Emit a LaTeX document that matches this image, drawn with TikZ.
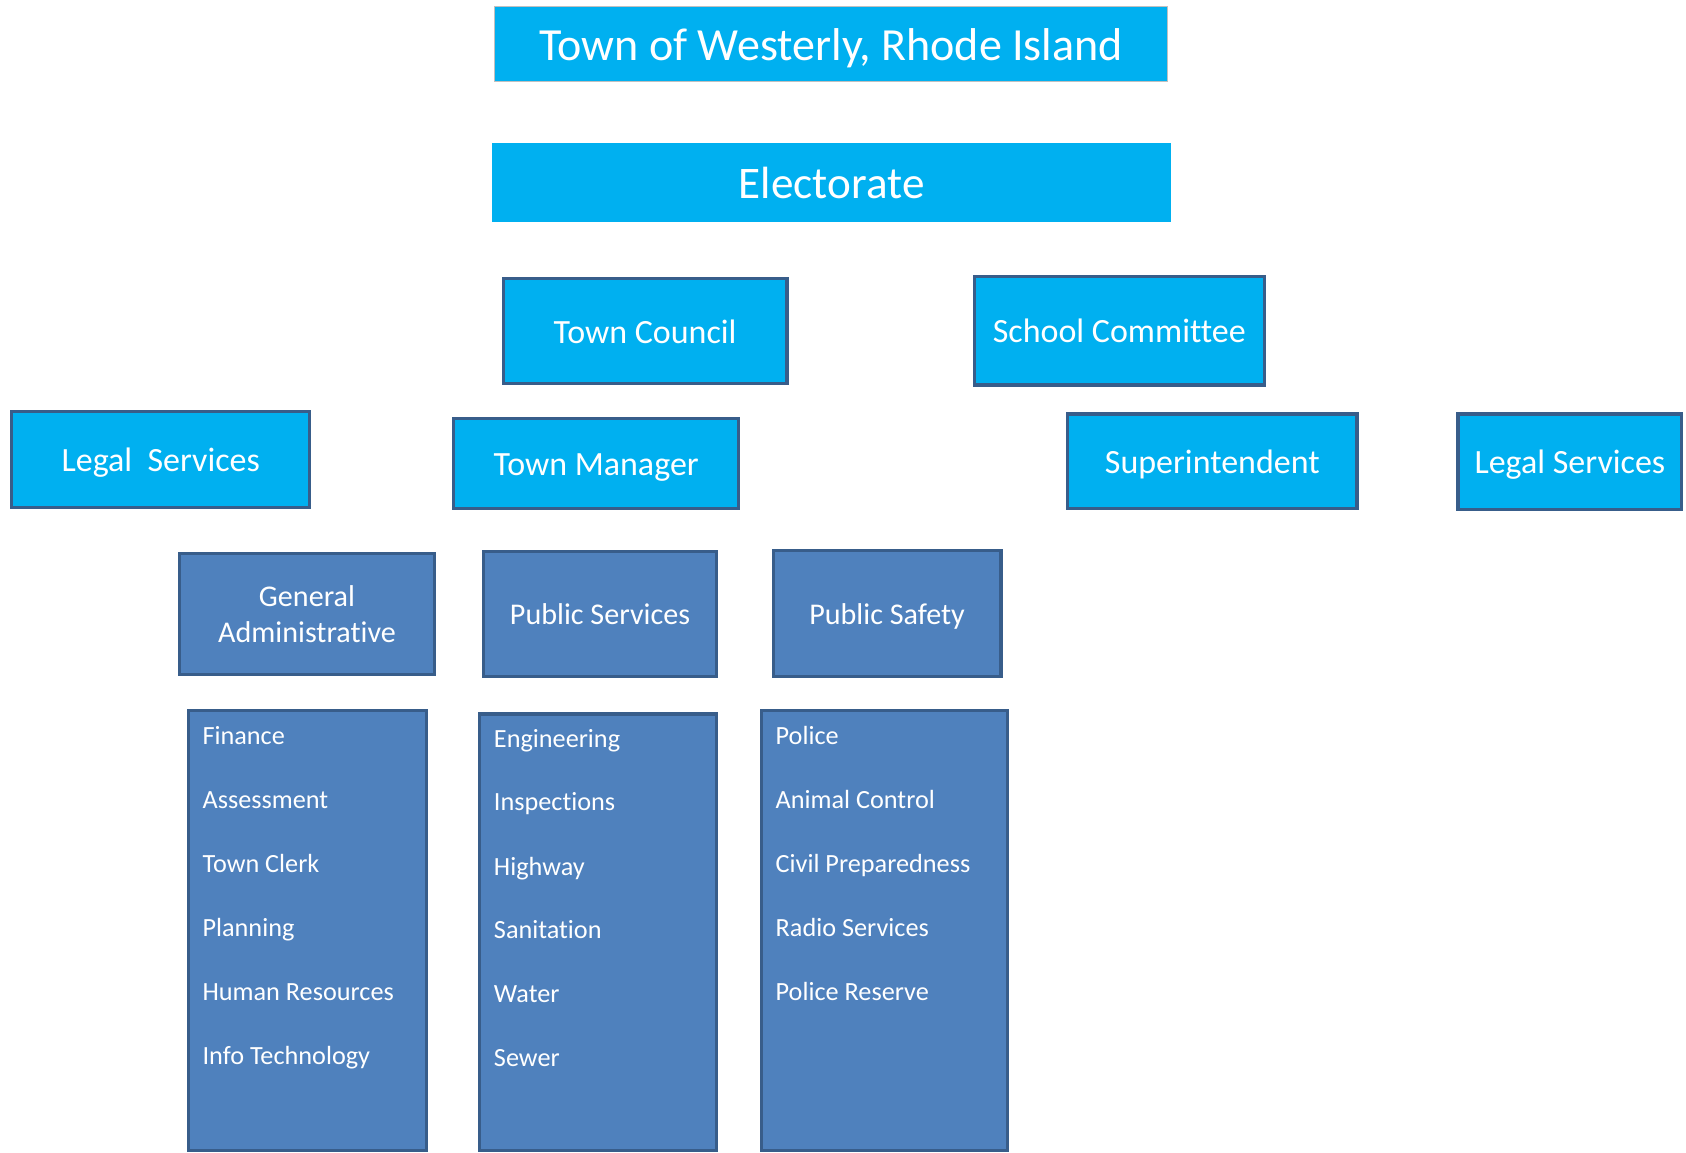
\documentclass[tikz,border=0pt]{standalone}
\usepackage{fontspec}
\setmainfont{Carlito}[Ligatures=CommonOff]
\definecolor{skyb}{HTML}{00B0F0}
\definecolor{midb}{HTML}{4F81BD}
\definecolor{edgeb}{HTML}{385D8A}
\definecolor{greyedge}{HTML}{C0C0C0}
\begin{document}
\begin{tikzpicture}[x=0.5pt,y=-0.5pt,
  topbox/.style={fill=skyb, text=white, inner sep=0pt, text height=19pt, text depth=4.2pt},
  lvlone/.style={fill=skyb, draw=edgeb, line width=1.5pt, text=white, inner sep=0pt, text height=14pt, text depth=3pt, font=\fontsize{15.8pt}{19pt}\selectfont},
  lvltwo/.style={fill=midb, draw=edgeb, line width=1.5pt, text=white, inner sep=0pt, align=center, font=\fontsize{14pt}{16.5pt}\selectfont},
  listbox/.style={fill=midb, draw=edgeb, line width=1.5pt, inner sep=0pt},
  item/.style={text=white, anchor=base west, inner sep=0pt, font=\fontsize{12.2pt}{14.5pt}\selectfont}
]
\useasboundingbox (0,0) rectangle (1568,1072);
% top
\node[topbox, draw=greyedge, line width=0.5pt, minimum width=313pt, minimum height=35pt, font=\fontsize{21.4pt}{25pt}\selectfont] (title) at (773,41) {Town of Westerly, Rhode Island};
\node[topbox, minimum width=315.5pt, minimum height=36.5pt, font=\fontsize{21pt}{25pt}\selectfont] (elect) at (773.5,169.5) {Electorate};
% level one
\node[lvlone, minimum width=132pt, minimum height=49pt] (council) at (600,308) {Town Council};
\node[lvlone, minimum width=135pt, minimum height=50.5pt] (school) at (1041,307.5) {School Committee};
\node[lvlone, minimum width=138.5pt, minimum height=44.5pt] (legalL) at (149.5,427.5) {Legal\ \ Services};
\node[lvlone, minimum width=132.5pt, minimum height=42pt] (manager) at (554.5,431) {Town Manager};
\node[lvlone, minimum width=134.5pt, minimum height=44pt] (super) at (1127.5,429) {Superintendent};
\node[lvlone, minimum width=104pt, minimum height=44.5pt] (legalR) at (1460,429.5) {Legal Services};
% level two
\node[lvltwo, minimum width=118.5pt, minimum height=56pt] (genadm) at (285.5,571) {General\\Administrative};
\node[lvltwo, minimum width=108pt, minimum height=58pt, text height=12.8pt, text depth=2.8pt] (pubserv) at (558,571) {Public Services};
\node[lvltwo, minimum width=106pt, minimum height=58.5pt, text height=12.8pt, text depth=2.8pt] (pubsafe) at (825,570.5) {Public Safety};
% lists
\node[listbox, minimum width=111pt, minimum height=204.5pt] (listA) at (286,865.5) {};
\node[listbox, minimum width=110pt, minimum height=203pt] (listB) at (556,867) {};
\node[listbox, minimum width=114.5pt, minimum height=204.5pt] (listC) at (822.5,865.5) {};
% list A items
\node[item] (a1) at (188,692) {Finance};
\node[item] (a2) at (188,752) {Assessment};
\node[item] (a3) at (188,811) {Town Clerk};
\node[item] (a4) at (188,871) {Planning};
\node[item] (a5) at (188,930) {Human Resources};
\node[item] (a6) at (188,990) {Info Technology};
% list B items
\node[item] (b1) at (459,695) {Engineering};
\node[item] (b2) at (459,754) {Inspections};
\node[item] (b3) at (459,814) {Highway};
\node[item] (b4) at (459,873) {Sanitation};
\node[item] (b5) at (459,932) {Water};
\node[item] (b6) at (459,992) {Sewer};
% list C items
\node[item] (c1) at (721,692) {Police};
\node[item] (c2) at (721,752) {Animal Control};
\node[item] (c3) at (721,811) {Civil Preparedness};
\node[item] (c4) at (721,871) {Radio Services};
\node[item] (c5) at (721,930) {Police Reserve};
\end{tikzpicture}
\end{document}
